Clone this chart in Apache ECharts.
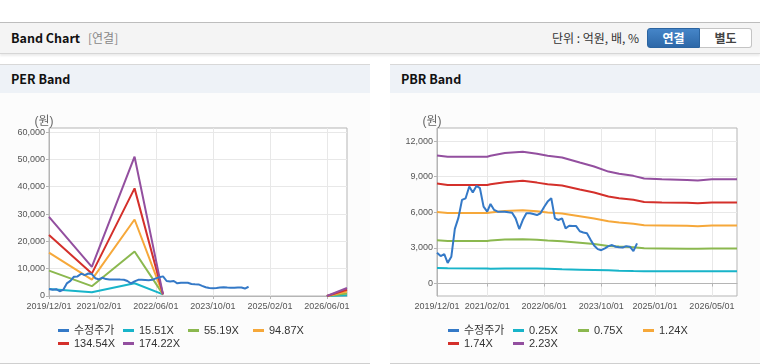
<!DOCTYPE html>
<html>
<head>
<meta charset="utf-8">
<script src="https://cdn.jsdelivr.net/npm/echarts@6/dist/echarts.min.js"></script>
<style>
    body { margin: 0; width: 760px; height: 364px; background: #fff; position: relative; overflow: hidden;
        font-family: 'Noto Sans CJK KR', 'Liberation Sans', sans-serif; }
    .head { position: absolute; left: 0; top: 22px; width: 760px; height: 30px; background: #f4f4f4;
        border-top: 1px solid #bdbdbd; border-bottom: 1px solid #d6d6d6; box-shadow: 0 2px 2px rgba(0, 0, 0, 0.08); }
    .head .ttl { position: absolute; left: 11px; top: 0; line-height: 30px; font-size: 12.5px; font-weight: bold; color: #111; }
    .head .sub { position: absolute; left: 88px; top: 0; line-height: 30px; font-size: 12px; color: #888; }
    .head .unit { position: absolute; left: 552px; top: 0; line-height: 30px; font-size: 12px; color: #333; }
    .btns { position: absolute; left: 647px; top: 5px; height: 20px; }
    .btns span { float: left; width: 51px; height: 18px; line-height: 18px; text-align: center; font-size: 12px; font-weight: bold; }
    .btns .on { color: #fff; background: linear-gradient(#4585c8, #2d68a8); border: 1px solid #2b64a0; border-radius: 3px 0 0 3px; }
    .btns .off { color: #444; background: #fff; border: 1px solid #c4c4c4; border-left: 0; border-radius: 0 3px 3px 0; }
    .panel { position: absolute; top: 64px; width: 370px; height: 298px; background: #fcfcfc;
        border-top: 1px solid #d8d8d8; border-bottom: 1px solid #cfcfcf; }
    .panel .ph { height: 28px; line-height: 28px; padding-left: 11px; background: #eef2f7; font-size: 12.5px; font-weight: bold; color: #111; }
    .chart { position: absolute; left: 0; top: 28px; width: 370px; height: 269px; }
</style>
</head>
<body>
<div class="head">
    <span class="ttl">Band Chart</span><span class="sub">[연결]</span>
    <span class="unit">단위 : 억원, 배, %</span>
    <div class="btns"><span class="on">연결</span><span class="off">별도</span></div>
</div>
<div class="panel" style="left:0"><div class="ph">PER Band</div><div class="chart" id="chart1"></div></div>
<div class="panel" style="left:390px"><div class="ph">PBR Band</div><div class="chart" id="chart2"></div></div>
<script>
var colorList = ['#3479c7', '#18b4c9', '#8bb84f', '#f6a83a', '#d4302b', '#934f9f'];

// 수정주가 (월별, 2019/12 부터)
var priceStart = [2019, 12];
var priceValues = [2590, 2310, 2480, 1740, 2250, 4600, 5550, 7040, 7180, 8170, 7660, 8220, 8030, 6480,
    6050, 6700, 6200, 6050, 6050, 6050, 6000, 5970, 5490, 4590, 5350, 5920, 5920, 5850, 5770, 5920,
    6450, 6900, 7180, 5490, 5350, 5490, 4650, 4870, 4850, 4840, 4400, 4300, 4230, 3700, 3200, 2900,
    2810, 2960, 3150, 3240, 3100, 3060, 3040, 3150, 3100, 2730, 3380];

// PER Band
var perNames = ['15.51X', '55.19X', '94.87X', '134.54X', '174.22X'];
var perDates = ['2019/12/01', '2020/12/01', '2021/12/01', '2022/08/01', '2024/06/01', '2026/06/01', '2026/11/20'];
var per1 = [2580, 1400, 4650, 600, null, 0, 260];
var per2 = [9300, 3600, 16300, 600, null, 0, 930];
var per3 = [15900, 6000, 28000, 600, null, 0, 1600];
var per4 = [22300, 8200, 39400, 600, null, 0, 2280];
var per5 = [29000, 10650, 51000, 600, null, 0, 2940];
var perXTicks = ['2019/12/01', '2021/02/01', '2022/06/01', '2023/10/01', '2025/02/01', '2026/06/01'];
var perYTicks = [0, 10000, 20000, 30000, 40000, 50000, 60000];

// PBR Band
var pbrNames = ['0.25X', '0.75X', '1.24X', '1.74X', '2.23X'];
var pbrDates = ['2019/12/01', '2020/03/01', '2021/02/01', '2021/03/01', '2021/07/01', '2021/12/01', '2022/04/01',
    '2022/07/01', '2022/11/01', '2023/04/01', '2023/08/01', '2023/12/01', '2024/03/01', '2024/07/01',
    '2024/10/01', '2025/03/01', '2025/10/01', '2026/01/01', '2026/05/01', '2026/12/01'];
var pbr1 = [1300, 1290, 1260, 1250, 1270, 1270, 1260, 1240, 1200, 1170, 1140, 1110, 1080, 1050, 1040, 1040, 1040, 1030, 1040, 1040];
var pbr2 = [3640, 3590, 3590, 3620, 3700, 3740, 3680, 3620, 3570, 3430, 3320, 3170, 3110, 3050, 2970, 2960, 2940, 2920, 2960, 2960];
var pbr3 = [6020, 5940, 5940, 5990, 6110, 6180, 6080, 5990, 5900, 5670, 5480, 5240, 5140, 5040, 4910, 4890, 4860, 4830, 4890, 4890];
var pbr4 = [8420, 8300, 8300, 8370, 8540, 8650, 8500, 8370, 8250, 7920, 7660, 7330, 7180, 7050, 6870, 6830, 6800, 6760, 6830, 6830];
var pbr5 = [10790, 10680, 10680, 10760, 10990, 11100, 10930, 10760, 10620, 10190, 9860, 9430, 9240, 9070, 8840, 8790, 8730, 8670, 8790, 8790];
var pbrXTicks = ['2019/12/01', '2021/02/01', '2022/06/01', '2023/10/01', '2025/01/01', '2026/05/01'];
var pbrYTicks = [0, 3000, 6000, 9000, 12000];

var fontFamily = "'Liberation Sans', 'Noto Sans CJK KR', sans-serif";

function pad2(n) {
    return n < 10 ? '0' + n : '' + n;
}

function fmtDate(v) {
    var d = new Date(v);
    return d.getFullYear() + '/' + pad2(d.getMonth() + 1) + '/' + pad2(d.getDate());
}

function fmtNum(v) {
    return String(v).replace(/\B(?=(\d{3})+(?!\d))/g, ',');
}

function toTime(s) {
    return new Date(s).getTime();
}

function priceData() {
    var list = [];
    priceValues.forEach(function (v, i) {
        var m = priceStart[1] - 1 + i;
        list.push([new Date(priceStart[0] + Math.floor(m / 12), m % 12, 1).getTime(), v]);
    });
    return list;
}

function pairs(dates, values) {
    return dates.map(function (d, i) {
        return [toTime(d), values[i] == null ? '-' : values[i]];
    });
}

function lineSeries(name, data, idx) {
    return {
        name: name,
        type: 'line',
        symbol: 'none',
        z: idx === 0 ? 5 : 2,
        lineStyle: { width: 2, color: colorList[idx] },
        itemStyle: { color: colorList[idx] },
        data: data
    };
}

function drawBand(domId, cfg) {
    var chart = echarts.init(document.getElementById(domId));
    var series = [lineSeries('수정주가', priceData(), 0)];
    cfg.names.forEach(function (n, i) {
        series.push(lineSeries(n, pairs(cfg.dates, cfg.values[i]), i + 1));
    });
    var xTicks = cfg.xTicks.map(toTime);
    var option = {
        animation: false,
        grid: {
            left: cfg.left, top: 35, width: cfg.width, height: 168,
            show: true, backgroundColor: '#fff', borderColor: '#b5b5b5', borderWidth: 1
        },
        legend: {
            left: 53, top: 227, width: 262,
            icon: 'rect', itemWidth: 11, itemHeight: 3, itemGap: 2,
            textStyle: { fontSize: 11, color: '#333', width: 47, lineHeight: 10, fontFamily: fontFamily },
            data: ['수정주가'].concat(cfg.names)
        },
        xAxis: {
            type: 'value',
            min: toTime(cfg.xMin), max: toTime(cfg.xMax),
            axisLine: { lineStyle: { color: '#b5b5b5' } },
            axisTick: { show: true, length: 3, lineStyle: { color: '#b5b5b5' }, customValues: xTicks },
            axisLabel: {
                customValues: xTicks, formatter: fmtDate, fontSize: 9, color: '#555', margin: 6,
                fontFamily: fontFamily
            },
            splitLine: { show: true, lineStyle: { color: '#e8e8e8' } }
        },
        yAxis: {
            type: 'value',
            min: cfg.yMin, max: cfg.yMax,
            name: '(원)', nameLocation: 'end', nameGap: 0,
            nameTextStyle: { fontSize: 12, color: '#666', padding: [0, 10, 0, 0], fontFamily: fontFamily },
            axisLine: { show: true, lineStyle: { color: '#b5b5b5' } },
            axisTick: { show: true, length: 3, lineStyle: { color: '#b5b5b5' }, customValues: cfg.yTicks },
            axisLabel: { customValues: cfg.yTicks, formatter: fmtNum, fontSize: 9, color: '#555', margin: 4, fontFamily: fontFamily },
            splitLine: { show: true, lineStyle: { color: '#e8e8e8' } }
        },
        series: series
    };
    chart.setOption(option, true);
    return chart;
}

drawBand('chart1', {
    left: 49, width: 298,
    names: perNames, dates: perDates, values: [per1, per2, per3, per4, per5],
    xMin: '2019/12/01', xMax: '2026/11/20', xTicks: perXTicks,
    yMin: 0, yMax: 61500, yTicks: perYTicks
});

drawBand('chart2', {
    left: 47, width: 300,
    names: pbrNames, dates: pbrDates, values: [pbr1, pbr2, pbr3, pbr4, pbr5],
    xMin: '2019/12/01', xMax: '2026/12/01', xTicks: pbrXTicks,
    yMin: -1050, yMax: 13100, yTicks: pbrYTicks
});
</script>
</body>
</html>
